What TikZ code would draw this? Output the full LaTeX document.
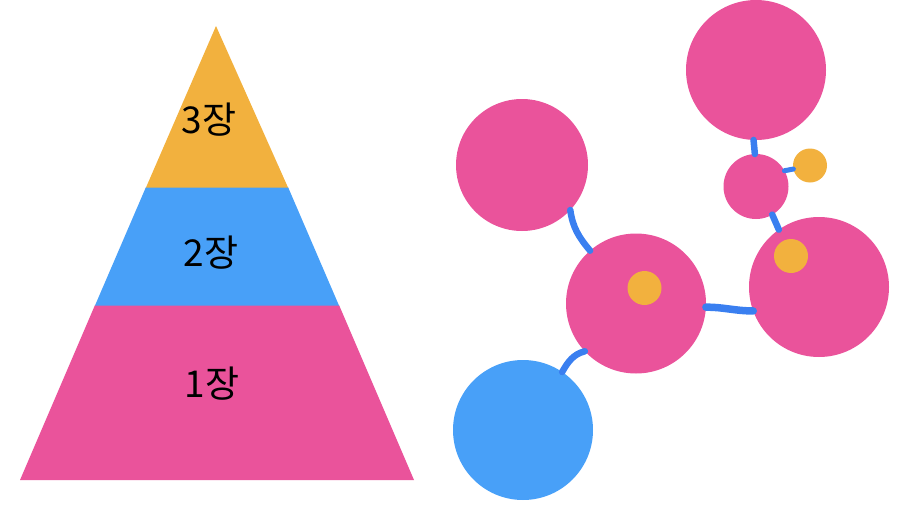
\documentclass[tikz,border=0pt]{standalone}
\usepackage{fontspec}
\newfontfamily\krfont{Noto Sans CJK KR}
\definecolor{pinkc}{HTML}{EA539B}
\definecolor{orangec}{HTML}{F2B13E}
\definecolor{bluec}{HTML}{48A0F8}
\definecolor{linkc}{HTML}{3A7FF0}
\begin{document}
\begin{tikzpicture}[x=1pt,y=-1pt,
  ball/.style={circle,inner sep=0pt,outer sep=0pt,minimum size=#1},
  lbl/.style={font=\krfont\fontsize{37}{40}\selectfont,text=black,inner sep=0pt},
  link/.style={draw=linkc,line width=6.5pt,line cap=round}]
\useasboundingbox (0,0) rectangle (900,506);
% pyramid
\fill[pinkc] (20,480) -- (414,480) -- (339,305) -- (95,305) -- cycle;
\fill[bluec] (95,305.5) -- (339,305.5) -- (288,187) -- (146,187) -- cycle;
\fill[orangec] (146,187.5) -- (288,187.5) -- (216,26) -- cycle;
\node[lbl] (t3) at (209,120) {3장};
\node[lbl] (t2) at (211,253) {2장};
\node[lbl] (t1) at (212,384) {1장};
% circles
\node[ball=132pt,fill=pinkc] (tl) at (522,165) {};
\node[ball=140pt,fill=pinkc] (tr) at (756,70) {};
\node[ball=65pt,fill=pinkc] (sm) at (756,186.5) {};
\node[ball=34pt,fill=orangec] (so) at (810,165.5) {};
\node[ball=140pt,fill=pinkc] (rt) at (819,287) {};
\node[ball=34pt,fill=orangec] (ro) at (791,256) {};
\node[ball=140pt,fill=pinkc] (md) at (636,303.5) {};
\node[ball=34pt,fill=orangec] (mo) at (644.5,288) {};
\node[ball=140pt,fill=bluec] (bl) at (523,430) {};
% connectors
\draw[link] (tl.-43) to[out=-82,in=130] (md.131);
\draw[link,line width=7.5pt] (md.-3.5) to[out=0,in=180] (rt.200);
\draw[link] (md.223) to[out=195,in=60] (bl.56);
\draw[link] (tr.-92.5) to[out=-85,in=95] (sm.92);
\draw[link,line width=5pt] (sm.29) -- (so.192);
\draw[link] (sm.-60) -- (rt.125);
\end{tikzpicture}
\end{document}
